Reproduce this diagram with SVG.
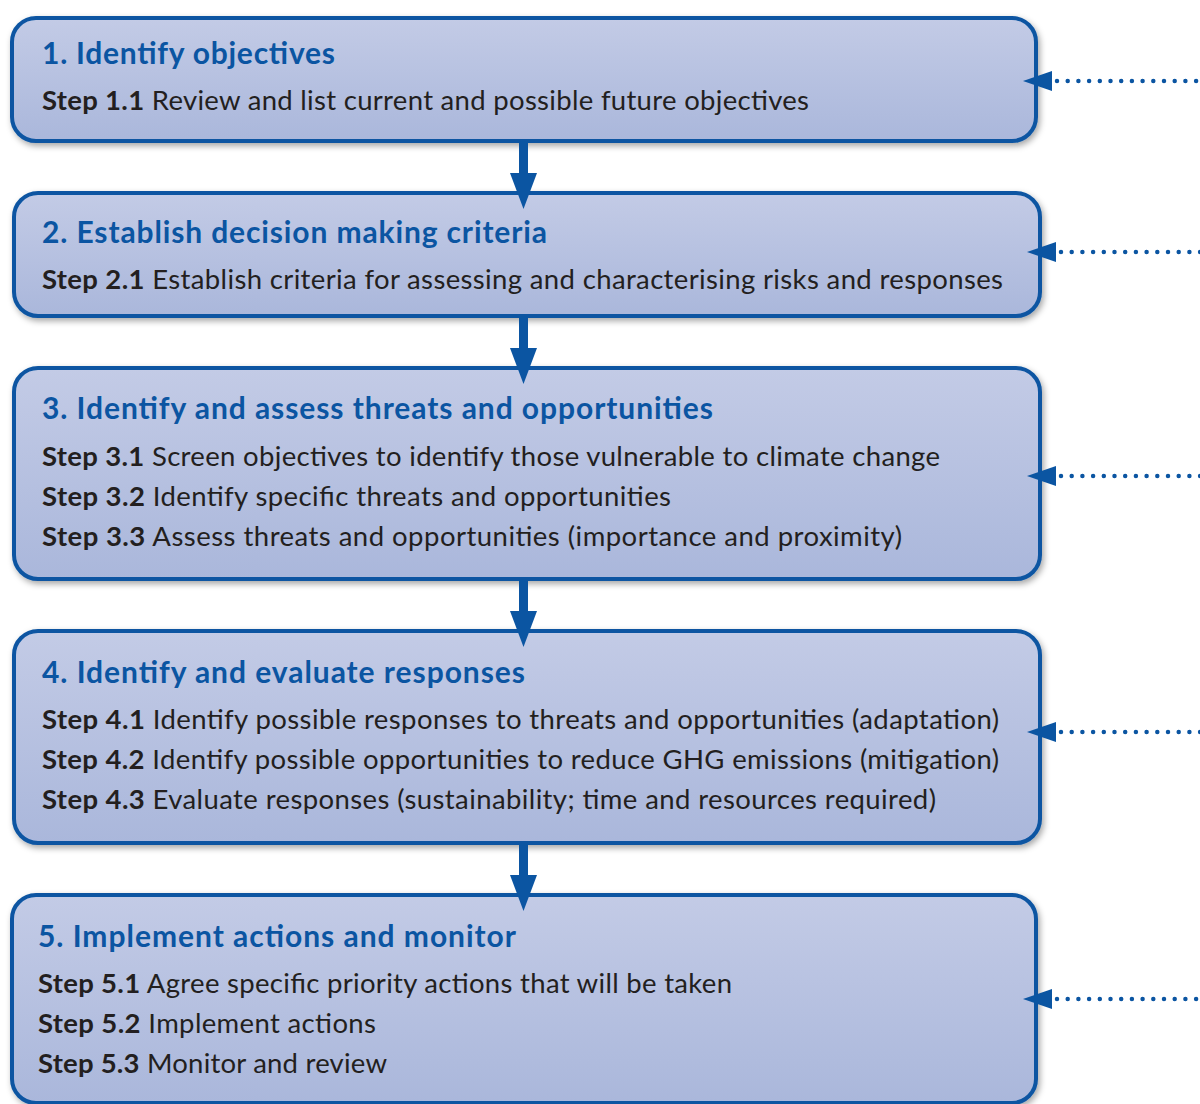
<svg xmlns="http://www.w3.org/2000/svg" width="1200" height="1104" viewBox="0 0 1200 1104">
  <style>
    .box { fill: url(#boxFill); stroke: #0b55a2; stroke-width: 4; filter: url(#shadow); }
    .title { font-family: Lato, "Open Sans", sans-serif; font-weight: 700; font-size: 30px; fill: #0b55a2; }
    .step { font-family: Lato, "Open Sans", sans-serif; font-size: 27.5px; fill: #231f20; }
    .step tspan.lbl { font-weight: 700; }
    .flow { stroke: #0b55a2; stroke-width: 9; fill: none; }
    .head { fill: #0b55a2; }
    .feed { stroke: #0b55a2; stroke-width: 4.5; stroke-linecap: round; stroke-dasharray: 0 10.7; fill: none; }
  </style>
  <defs>
    <linearGradient id="boxFill" x1="0" y1="0" x2="0" y2="1">
      <stop offset="0" stop-color="#c3cbe6"/>
      <stop offset="1" stop-color="#aab7db"/>
    </linearGradient>
    <filter id="shadow" x="-5%" y="-10%" width="110%" height="125%">
      <feDropShadow dx="2" dy="3" stdDeviation="3" flood-color="#000" flood-opacity="0.35"/>
    </filter>
  </defs>

  <rect width="1200" height="1104" fill="#ffffff"/>

  <!-- process steps -->
  <g id="node1">
    <rect class="box" x="12" y="18" width="1024" height="123" rx="24"/>
    <text class="title" x="42" y="64" textLength="293">1. Identify objectives</text>
    <text class="step" x="42" y="110" textLength="767"><tspan class="lbl">Step 1.1</tspan> Review and list current and possible future objectives</text>
  </g>

  <g id="node2">
    <rect class="box" x="14" y="193" width="1026" height="123" rx="24"/>
    <text class="title" x="42" y="243" textLength="505">2. Establish decision making criteria</text>
    <text class="step" x="42" y="289" textLength="961"><tspan class="lbl">Step 2.1</tspan> Establish criteria for assessing and characterising risks and responses</text>
  </g>

  <g id="node3">
    <rect class="box" x="14" y="368" width="1026" height="211" rx="24"/>
    <text class="title" x="42" y="419" textLength="671">3. Identify and assess threats and opportunities</text>
    <text class="step" x="42" y="466" textLength="898"><tspan class="lbl">Step 3.1</tspan> Screen objectives to identify those vulnerable to climate change</text>
    <text class="step" x="42" y="506" textLength="629"><tspan class="lbl">Step 3.2</tspan> Identify specific threats and opportunities</text>
    <text class="step" x="42" y="546" textLength="860"><tspan class="lbl">Step 3.3</tspan> Assess threats and opportunities (importance and proximity)</text>
  </g>

  <g id="node4">
    <rect class="box" x="14" y="631" width="1026" height="212" rx="24"/>
    <text class="title" x="42" y="683" textLength="483">4. Identify and evaluate responses</text>
    <text class="step" x="42" y="729" textLength="957"><tspan class="lbl">Step 4.1</tspan> Identify possible responses to threats and opportunities (adaptation)</text>
    <text class="step" x="42" y="769" textLength="957"><tspan class="lbl">Step 4.2</tspan> Identify possible opportunities to reduce GHG emissions (mitigation)</text>
    <text class="step" x="42" y="809" textLength="894"><tspan class="lbl">Step 4.3</tspan> Evaluate responses (sustainability; time and resources required)</text>
  </g>

  <g id="node5">
    <rect class="box" x="12" y="895" width="1024" height="208" rx="24"/>
    <text class="title" x="38" y="947" textLength="478">5. Implement actions and monitor</text>
    <text class="step" x="38" y="993" textLength="694"><tspan class="lbl">Step 5.1</tspan> Agree specific priority actions that will be taken</text>
    <text class="step" x="38" y="1033" textLength="338"><tspan class="lbl">Step 5.2</tspan> Implement actions</text>
    <text class="step" x="38" y="1073" textLength="349"><tspan class="lbl">Step 5.3</tspan> Monitor and review</text>
  </g>

  <!-- connectors: downward flow arrows and dotted feedback arrows -->
  <g id="connectors">
    <line class="flow" x1="523.5" y1="141" x2="523.5" y2="176"/>
    <polygon class="head" points="510,173 537,173 523.5,209"/>
    <line class="flow" x1="523.5" y1="316" x2="523.5" y2="351"/>
    <polygon class="head" points="510,348 537,348 523.5,384"/>
    <line class="flow" x1="523.5" y1="579" x2="523.5" y2="614"/>
    <polygon class="head" points="510,611 537,611 523.5,647"/>
    <line class="flow" x1="523.5" y1="843" x2="523.5" y2="878"/>
    <polygon class="head" points="510,875 537,875 523.5,911"/>

    <line class="feed" x1="1057" y1="81" x2="1205" y2="81"/>
    <polygon class="head" points="1023,81 1052,71 1052,91"/>
    <line class="feed" x1="1061" y1="252" x2="1205" y2="252"/>
    <polygon class="head" points="1027,252 1056,242 1056,262"/>
    <line class="feed" x1="1061" y1="476" x2="1205" y2="476"/>
    <polygon class="head" points="1027,476 1056,466 1056,486"/>
    <line class="feed" x1="1061" y1="732" x2="1205" y2="732"/>
    <polygon class="head" points="1027,732 1056,722 1056,742"/>
    <line class="feed" x1="1057" y1="999" x2="1205" y2="999"/>
    <polygon class="head" points="1023,999 1052,989 1052,1009"/>
  </g>
</svg>
